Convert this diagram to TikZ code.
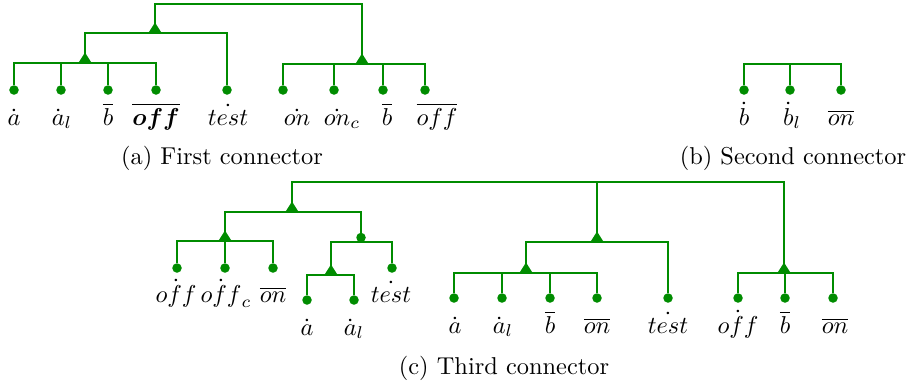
\documentclass[tikz,border=0pt]{standalone}
\usepackage{amsmath}
\definecolor{treegreen}{RGB}{0,140,0}
\newcommand\junctri[1]{\fill[treegreen] (#1) ++(-7,0.5) -- ++(14,0) -- ++(-7,-11) -- cycle;}
\begin{document}
\begin{tikzpicture}[x=0.41pt,y=-0.41pt,
  wire/.style={draw=treegreen,line width=1pt},
  leaf/.style={circle,fill=treegreen,inner sep=0pt,minimum size=3.9pt},
  lbl/.style={anchor=base,inner sep=0pt},
  captext/.style={anchor=base,inner sep=0pt}]
\useasboundingbox (0,0) rectangle (907,389);

% ---------- (a) first connector ----------
\coordinate (ra) at (258,4);
\coordinate (ja1) at (155,33);
\coordinate (ja2) at (85,63);
\coordinate (ja3) at (362,64);
\foreach \n/\x in {1/14,2/61,3/108,4/156,5/227,6/283,7/334,8/383,9/425}
  \node[leaf] (la\n) at (\x,90) {};
\draw[wire] (ja1) |- (ra) (ja3) |- (ra);
\draw[wire] (ja2) |- (ja1) (la5) |- (ja1);
\foreach \n in {1,...,4} \draw[wire] (la\n) |- (ja2);
\foreach \n in {6,...,9} \draw[wire] (la\n) |- (ja3);
\junctri{ja1}\junctri{ja2}\junctri{ja3}
\node[lbl] (ta1) at (14,125) {$\dot{a}$};
\node[lbl] (ta2) at (62,125) {$\dot{a}_l$};
\node[lbl] (ta3) at (108,125) {$\overline{b}$};
\node[lbl] (ta4) at (156,125) {$\boldsymbol{\overline{off}}$};
\node[lbl] (ta5) at (228,125) {$\dot{test}$};
\node[lbl] (ta6) at (297,125) {$\dot{on}$};
\node[lbl] (ta7) at (342,125) {$\dot{on}_c$};
\node[lbl] (ta8) at (387,125) {$\overline{b}$};
\node[lbl] (ta9) at (437,125) {$\overline{off}$};
\node[captext] (capa) at (222,164) {(a) First connector};

% ---------- (b) second connector ----------
\coordinate (jb) at (790,64);
\foreach \n/\x in {1/744,2/790,3/841}
  \node[leaf] (lb\n) at (\x,90) {};
\foreach \n in {1,2,3} \draw[wire] (lb\n) |- (jb);
\node[lbl] (tb1) at (744,125) {$\dot{b}$};
\node[lbl] (tb2) at (792,125) {$\dot{b}_l$};
\node[lbl] (tb3) at (841,125) {$\overline{on}$};
\node[captext] (capb) at (793,164) {(b) Second connector};

% ---------- (c) third connector ----------
\coordinate (rc) at (597,182);
\coordinate (kc1) at (292,212);
\coordinate (kc2) at (597,242);
\coordinate (kc3) at (784,273);
\coordinate (kc11) at (225,241);
\coordinate (kc12) at (361,242);
\coordinate (kc121) at (331,275);
\coordinate (kc21) at (526,273);
\foreach \n/\x/\y in {1/177/268,2/225/268,3/273/268,4/392/268,5/307/300,6/354/300,
  7/454/298,8/502/298,9/550/298,10/597/298,11/668/298,12/738/298,13/785/298,14/833/298}
  \node[leaf] (lc\n) at (\x,\y) {};
\draw[wire] (kc1) |- (rc) (kc2) |- (rc) (kc3) |- (rc);
\draw[wire] (kc11) |- (kc1) (kc12) |- (kc1);
\foreach \n in {1,2,3} \draw[wire] (lc\n) |- (kc11);
\draw[wire] (kc121) |- (kc12) (lc4) |- (kc12);
\foreach \n in {5,6} \draw[wire] (lc\n) |- (kc121);
\draw[wire] (kc21) |- (kc2) (lc11) |- (kc2);
\foreach \n in {7,...,10} \draw[wire] (lc\n) |- (kc21);
\foreach \n in {12,13,14} \draw[wire] (lc\n) |- (kc3);
\junctri{kc1}\junctri{kc2}\junctri{kc3}\junctri{kc11}\junctri{kc121}\junctri{kc21}
\fill[treegreen] (kc12) ++(0,-4.5) circle (1.95pt);
\node[lbl] (tc1) at (176,302) {$\dot{off}$};
\node[lbl] (tc2) at (226,302) {$\dot{off}_c$};
\node[lbl] (tc3) at (273,302) {$\overline{on}$};
\node[lbl] (tc4) at (391,302) {$\dot{test}$};
\node[lbl] (tc5) at (307,335) {$\dot{a}$};
\node[lbl] (tc6) at (354,335) {$\dot{a}_l$};
\node[lbl] (tc7) at (455,333) {$\dot{a}$};
\node[lbl] (tc8) at (503,333) {$\dot{a}_l$};
\node[lbl] (tc9) at (550,333) {$\overline{b}$};
\node[lbl] (tc10) at (597,333) {$\overline{on}$};
\node[lbl] (tc11) at (668,333) {$\dot{test}$};
\node[lbl] (tc12) at (738,333) {$\dot{off}$};
\node[lbl] (tc13) at (785,333) {$\overline{b}$};
\node[lbl] (tc14) at (835,333) {$\overline{on}$};
\node[captext] (capc) at (504,374) {(c) Third connector};
\end{tikzpicture}
\end{document}
